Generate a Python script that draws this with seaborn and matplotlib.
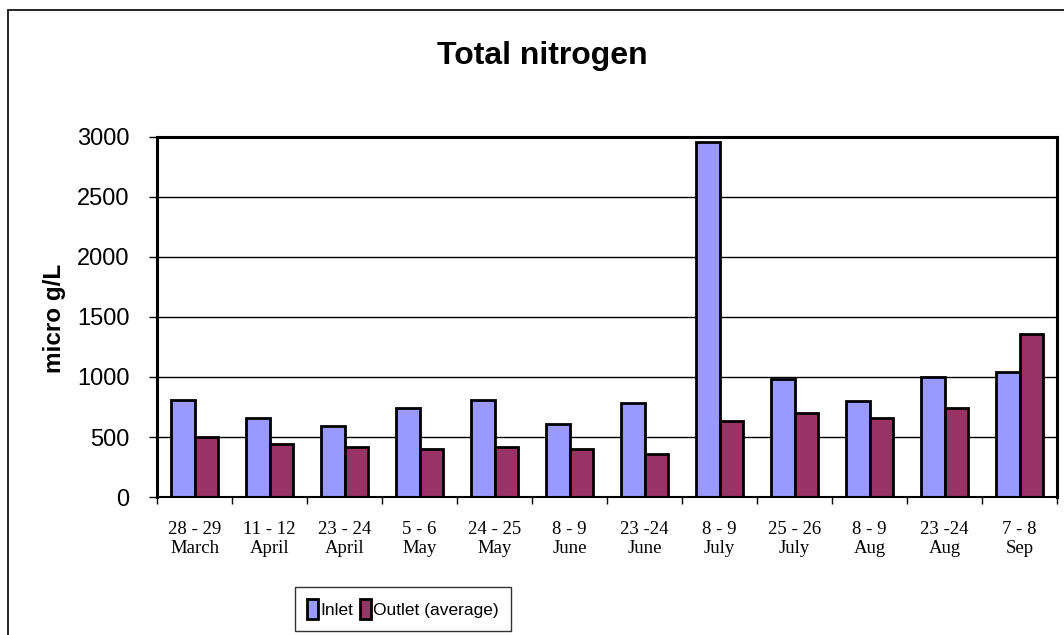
import pandas as pd
import numpy as np
import seaborn as sns
import matplotlib.pyplot as plt
from matplotlib.patches import Rectangle

# sampling dates (two-line tick labels)
dates = ["28 - 29\nMarch", "11 - 12\nApril", "23 - 24\nApril", "5 - 6\nMay",
         "24 - 25\nMay", "8 - 9\nJune", "23 -24\nJune", "8 - 9\nJuly",
         "25 - 26\nJuly", "8 - 9\nAug", "23 -24\nAug", "7 - 8\nSep"]
inlet = [805, 655, 590, 740, 805, 610, 785, 2960, 980, 800, 1000, 1040]
outlet = [500, 440, 420, 400, 420, 400, 360, 630, 700, 660, 740, 1360]
series = ["Inlet", "Outlet (average)"]
colors = ["#9999FF", "#993366"]

df = pd.DataFrame({
    "date": dates * 2,
    "value": inlet + outlet,
    "series": [series[0]] * len(dates) + [series[1]] * len(dates),
})

sns.set_style("white", {"text.color": "black", "axes.labelcolor": "black",
                        "xtick.color": "black", "ytick.color": "black"})
plt.rcParams['font.family'] = ['Liberation Sans', 'DejaVu Sans']

fig = plt.figure(figsize=(10.64, 6.35), dpi=100)
ax = fig.add_axes([0.1476, 0.2173, 0.8459, 0.567])

sns.barplot(data=df, x="date", y="value", hue="series", palette=colors,
            saturation=1, edgecolor="black", linewidth=2, width=0.62, gap=0,
            ax=ax, legend=True)

ax.set_ylim(0, 3000)
ax.set_xlim(-0.5, len(dates) - 0.5)
ax.set_yticks(np.arange(0, 3001, 500))
ax.yaxis.grid(True, color="black", linewidth=1)
ax.set_axisbelow(True)
ax.tick_params(axis="y", labelsize=17, length=6, width=1, direction="out", left=True, pad=14)

# category labels in serif, ticks between categories
ax.set_xticks(range(len(dates)))
ax.set_xticklabels(dates, fontsize=13.5, family=["Liberation Serif"], linespacing=1.2)
ax.tick_params(axis="x", which="major", length=0, pad=17)
ax.set_xticks(np.arange(-0.5, len(dates), 1), minor=True)
ax.tick_params(axis="x", which="minor", length=5, width=1, bottom=True, direction="out")

ax.set_xlabel("")
ax.set_ylabel("micro g/L", fontsize=17.5, fontweight="bold")
ax.yaxis.set_label_coords((66 - 157) / 900, (497 - 318) / 360)

for side in ["left", "right", "top", "bottom"]:
    ax.spines[side].set_visible(True)
    ax.spines[side].set_color("black")
ax.spines["left"].set_linewidth(2.2)
ax.spines["top"].set_linewidth(2.2)
ax.spines["right"].set_linewidth(2.2)
ax.spines["bottom"].set_linewidth(1.5)

fig.text(542 / 1064, 1 - 56 / 635, "Total nitrogen", ha="center", va="center",
         fontsize=23, fontweight="bold")

handles, labels = ax.get_legend_handles_labels()
ax.legend_.remove()
leg = fig.legend(handles, labels, loc="upper center", bbox_to_anchor=(403 / 1064, 1 - 587 / 635),
                 ncol=2, frameon=True, fancybox=False, edgecolor="black",
                 prop={"size": 12.5},
                 handlelength=0.6, handleheight=1.4, handletextpad=0.15, columnspacing=0.4,
                 borderpad=0.7, borderaxespad=0)
leg.get_frame().set_linewidth(1)

# outer chart border (right and bottom edges fall outside the image)
fig.patches.append(Rectangle((8 / 1064, -0.05), 1.0, 1 - 10 / 635 + 0.05,
                             transform=fig.transFigure, fill=False,
                             edgecolor="black", linewidth=1.2))

fig.savefig("out.png", dpi=100)
